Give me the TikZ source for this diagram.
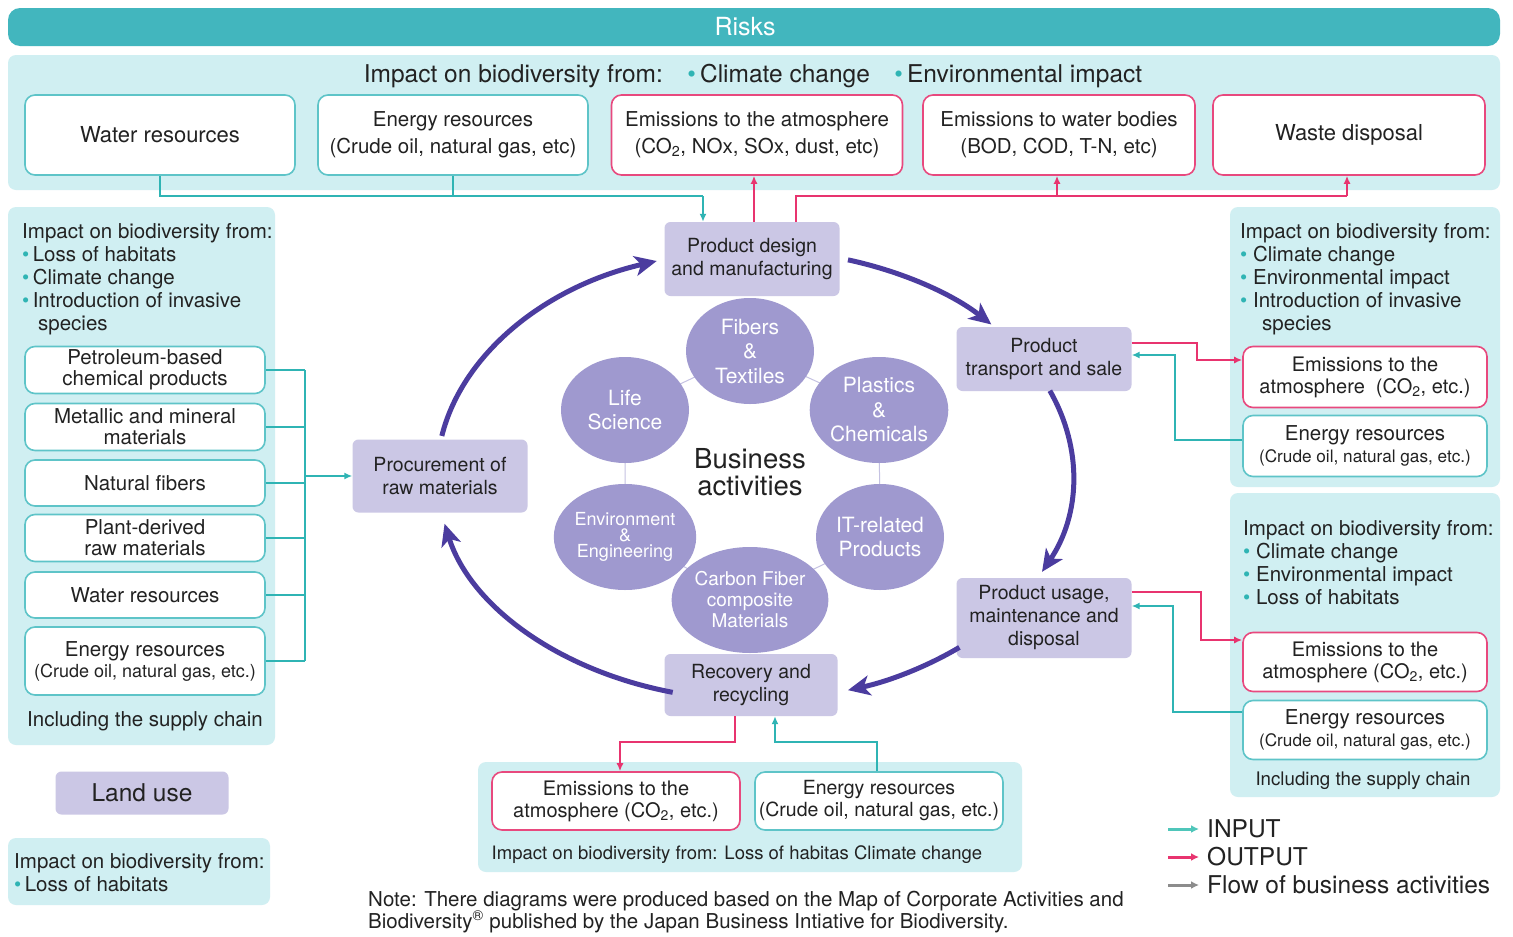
\documentclass[tikz,border=0pt]{standalone}
\usepackage{fontspec}
\setmainfont{TeX Gyre Heros}
\usetikzlibrary{arrows.meta,shapes.geometric,calc}
\definecolor{banner}{HTML}{42B6BE}
\definecolor{panelc}{HTML}{D0EFF2}
\definecolor{tealc}{HTML}{2FB4B4}
\definecolor{tealb}{HTML}{5EC4C8}
\definecolor{pinkc}{HTML}{E8346F}
\definecolor{pinkb}{HTML}{E8497E}
\definecolor{lav}{HTML}{CBC7E5}
\definecolor{bubc}{HTML}{9F99CF}
\definecolor{flowc}{HTML}{4B3C9F}
\definecolor{txt}{HTML}{222222}
\definecolor{legteal}{HTML}{4FC6BA}
\definecolor{leggray}{HTML}{8C8C8C}
\newcommand\myfs[2]{\fontsize{#1}{#2}\selectfont}
\newcommand\tb{{\color{tealc}\textbullet}}
\begin{document}
\begin{tikzpicture}[x=1pt,y=-1pt,
 tbox/.style={draw=tealb, fill=white, rounded corners=10pt, line width=1.6pt, align=center, inner sep=0pt, text=txt},
 pbox/.style={tbox, draw=pinkb},
 act/.style={fill=lav, rounded corners=6pt, align=center, inner sep=0pt, minimum width=175pt, font=\myfs{19.5}{23}, text=txt},
 bub/.style={ellipse, fill=bubc, text=white, align=center, minimum width=128pt, minimum height=106pt, inner sep=0pt, font=\myfs{21}{24.5}},
 inline/.style={draw=tealc, line width=2.6pt},
 outline/.style={draw=pinkc, line width=2.6pt},
 inarr/.style={inline, -{Latex[length=8pt,width=7pt]}},
 outarr/.style={outline, -{Latex[length=8pt,width=7pt]}},
 flow/.style={draw=flowc, line width=5pt, -{Stealth[length=22pt,width=20pt,inset=6pt]}},
 ptext/.style={align=left, inner sep=0pt, font=\myfs{20.5}{23}, text=txt},
 panel/.style={fill=panelc, rounded corners=8pt},
 legarr/.style={line width=3pt, -{Latex[length=8pt,width=8pt]}},
]
\useasboundingbox (0,0) rectangle (1513,937);
\fill[white] (0,0) rectangle (1513,937);

% ---------- banner and panels ----------
\node[fill=banner, rounded corners=12pt, minimum width=1492pt, minimum height=38pt, inner sep=0pt] (banner) at (754,27) {};
\node[inner sep=0pt, text=white, font=\myfs{25}{28}] (risks) at (745,27) {Risks};
\fill[panel] (8,55) rectangle (1500,190);
\fill[panel] (8,207) rectangle (275,745);
\fill[panel] (8,838) rectangle (270,905);
\fill[panel] (1230,207) rectangle (1500,487);
\fill[panel] (1230,493) rectangle (1500,797);
\fill[panel] (478,762) rectangle (1022,872);

% ---------- top ----------
\node[inner sep=0pt, anchor=base, font=\myfs{24.5}{28}, text=txt] (title) at (753,82) {Impact on biodiversity from:\quad\tb\,Climate change\quad\tb\,Environmental impact};
\node[tbox, minimum width=270pt, minimum height=80pt, font=\myfs{22}{27}] (wr) at (160,135) {Water resources};
\node[tbox, minimum width=270pt, minimum height=80pt, font=\myfs{20.5}{27}] (er) at (453,135) {Energy resources\\(Crude oil, natural gas, etc)};
\node[pbox, minimum width=291pt, minimum height=80pt, font=\myfs{20.5}{27}] (ea) at (757,135) {Emissions to the atmosphere\\(CO\textsubscript{2}, NOx, SOx, dust, etc)};
\node[pbox, minimum width=272pt, minimum height=80pt, font=\myfs{20.5}{27}] (ew) at (1059,135) {Emissions to water bodies\\(BOD, COD, T-N, etc)};
\node[pbox, minimum width=272pt, minimum height=80pt, font=\myfs{22}{27}] (wd) at (1349,135) {Waste disposal};

% ---------- business activity boxes ----------
\node[act, minimum height=74pt] (pd) at (752,259) {Product design\\and manufacturing};
\node[act, minimum height=64pt] (trans) at (1044,359) {Product\\transport and sale};
\node[act, minimum height=80pt] (use) at (1044,618) {Product usage,\\maintenance and\\disposal};
\node[act, minimum width=173pt, minimum height=62pt] (rec) at (751,685) {Recovery and\\recycling};
\node[act, minimum height=73pt] (proc) at (440,476) {Procurement of\\raw materials};

% ---------- bubbles ----------
\coordinate (c1) at (750,351);
\coordinate (c2) at (879,410);
\coordinate (c3) at (880,537);
\coordinate (c4) at (750,600);
\coordinate (c5) at (625,537);
\coordinate (c6) at (625,410);
\draw[bubc!60, line width=1pt] (c1) -- (c2) -- (c3) -- (c4) -- (c5) -- (c6) -- cycle;
\node[bub] (b1) at (c1) {Fibers\\\&\\Textiles};
\node[bub] (b2) at (c2) {Plastics\\\&\\Chemicals};
\node[bub] (b3) at (c3) {IT-related\\Products};
\node[bub, font=\myfs{19}{21}] (b4) at (c4) {Carbon Fiber\\composite\\Materials};
\node[bub, font=\myfs{18}{16}] (b5) at (c5) {Environment\\\&\\Engineering};
\node[bub] (b6) at (c6) {Life\\Science};
\node[inner sep=0pt, align=center, font=\myfs{27.5}{27}, text=txt] (biz) at (750,472) {Business\\activities};

% ---------- flow arcs ----------
\coordinate (cen) at (755,475);
\draw[flow] ($(cen)+(190:318 and 225)$) arc[start angle=190, end angle=252, x radius=318, y radius=225];
\draw[flow] ($(cen)+(287:318 and 225)$) arc[start angle=287, end angle=318, x radius=318, y radius=225];
\draw[flow] ($(cen)+(338:318 and 225)$) arc[start angle=338, end angle=385.5, x radius=318, y radius=225];
\draw[flow] ($(cen)+(50:318 and 225)$) arc[start angle=50, end angle=73, x radius=318, y radius=225];
\draw[flow] ($(cen)+(105:318 and 225)$) arc[start angle=105, end angle=167.5, x radius=318, y radius=225];

% ---------- top connectors ----------
\draw[inline] (160,0 |- wr.south) -- (160,196) -- (703,196);
\draw[inline] (453,0 |- er.south) -- (453,196);
\draw[inarr] (703,196) -- (703,0 |- pd.north);
\draw[outarr] (754,0 |- pd.north) -- (754,0 |- ea.south);
\draw[outline] (796,0 |- pd.north) -- (796,196) -- (1347,196);
\draw[outarr] (1347,196) -- (1347,0 |- wd.south);
\draw[outarr] (1057,196) -- (1057,0 |- ew.south);

% ---------- left panel ----------
\node[ptext, anchor=north west] (lhead) at (22,223) {Impact on biodiversity from:\\\tb\,Loss of habitats\\\tb\,Climate change\\\tb\,Introduction of invasive\\\hspace*{16pt}species};
\node[tbox, minimum width=240pt, minimum height=47pt, font=\myfs{20.5}{21}] (lb1) at (145,370) {Petroleum-based\\chemical products};
\node[tbox, minimum width=240pt, minimum height=47pt, font=\myfs{20.5}{21}] (lb2) at (145,427) {Metallic and mineral\\materials};
\node[tbox, minimum width=240pt, minimum height=46pt, font=\myfs{20.5}{21}] (lb3) at (145,483) {Natural fibers};
\node[tbox, minimum width=240pt, minimum height=47pt, font=\myfs{20.5}{21}] (lb4) at (145,538) {Plant-derived\\raw materials};
\node[tbox, minimum width=240pt, minimum height=46pt, font=\myfs{20.5}{21}] (lb5) at (145,595) {Water resources};
\node[tbox, minimum width=240pt, minimum height=68pt, font=\myfs{20.5}{21}] (lb6) at (145,661) {Energy resources\\{\myfs{18}{21}(Crude oil, natural gas, etc.)}};
\node[ptext, font=\myfs{20.5}{23}] (linc) at (145,721) {Including the supply chain};
\foreach \i in {1,...,6} \draw[inline] (lb\i.east) -- (305,0 |- lb\i.east);
\draw[inline] (305,0 |- lb1.east) -- (305,0 |- lb6.east);
\coordinate (lbus) at (305,476);
\draw[inarr] (lbus) -- (proc.west);

% ---------- land use ----------
\node[fill=lav, rounded corners=6pt, minimum width=173pt, minimum height=43pt, inner sep=0pt, font=\myfs{24.5}{28}, text=txt] (land) at (142,793) {Land use};
\node[ptext, anchor=north west] (lbot) at (14,853) {Impact on biodiversity from:\\\tb\,Loss of habitats};

% ---------- right upper ----------
\node[ptext, anchor=north west] (rh1) at (1240,223) {Impact on biodiversity from:\\\tb\ Climate change\\\tb\ Environmental impact\\\tb\ Introduction of invasive\\\hspace*{22pt}species};
\node[pbox, minimum width=244pt, minimum height=61pt, font=\myfs{20}{22}] (emr1) at (1365,377) {Emissions to the\\atmosphere\ \ (CO\textsubscript{2}, etc.)};
\node[tbox, minimum width=244pt, minimum height=61pt, font=\myfs{20.5}{22}] (enr1) at (1365,446) {Energy resources\\{\myfs{17.2}{22}(Crude oil, natural gas, etc.)}};
\draw[outarr] (trans.east |- 0,343) -- (1197,343) -- (1197,360) -- (emr1.west |- 0,360);
\draw[inarr] (enr1.west |- 0,440) -- (1175,440) -- (1175,355) -- (trans.east |- 0,355);

% ---------- right lower ----------
\node[ptext, anchor=north west] (rh2) at (1243,520) {Impact on biodiversity from:\\\tb\ Climate change\\\tb\ Environmental impact\\\tb\ Loss of habitats};
\node[pbox, minimum width=244pt, minimum height=59pt, font=\myfs{20}{22}] (emr2) at (1365,662) {Emissions to the\\atmosphere (CO\textsubscript{2}, etc.)};
\node[tbox, minimum width=244pt, minimum height=59pt, font=\myfs{20.5}{22}] (enr2) at (1365,730) {Energy resources\\{\myfs{17.2}{22}(Crude oil, natural gas, etc.)}};
\node[ptext, font=\myfs{18.7}{22}] (rinc) at (1363,781) {Including the supply chain};
\draw[outarr] (use.east |- 0,592) -- (1201,592) -- (1201,640) -- (emr2.west |- 0,640);
\draw[inarr] (enr2.west |- 0,712) -- (1173,712) -- (1173,606) -- (use.east |- 0,606);

% ---------- bottom middle ----------
\node[pbox, minimum width=248pt, minimum height=58pt, font=\myfs{20}{22}] (emb) at (616,801) {Emissions to the\\atmosphere (CO\textsubscript{2}, etc.)};
\node[tbox, minimum width=248pt, minimum height=58pt, font=\myfs{19.5}{22}] (enb) at (879,801) {Energy resources\\(Crude oil, natural gas, etc.)};
\node[ptext, font=\myfs{18.5}{22}] (btxt) at (737,855) {Impact on biodiversity from: Loss of habitas Climate change};
\draw[outarr] (735,0 |- rec.south) -- (735,742) -- (620,742) -- (620,0 |- emb.north);
\draw[inarr] (877,0 |- enb.north) -- (877,742) -- (775,742) -- (775,0 |- rec.south);

% ---------- note ----------
\node[ptext, font=\myfs{20.5}{22}, anchor=north west] (note) at (368,891) {Note: There diagrams were produced based on the Map of Corporate Activities and\\Biodiversity\textsuperscript{\textregistered} published by the Japan Business Intiative for Biodiversity.};

% ---------- legend ----------
\node[ptext, font=\myfs{24.5}{28}, anchor=west] (lin) at (1207,829) {INPUT};
\node[ptext, font=\myfs{24.5}{28}, anchor=west] (lout) at (1207,857) {OUTPUT};
\node[ptext, font=\myfs{24.5}{28}, anchor=west] (lflow) at (1207,885) {Flow of business activities};
\coordinate (la1) at (1168,829);
\coordinate (la2) at (1168,857);
\coordinate (la3) at (1168,885);
\draw[legarr, draw=legteal] (la1) -- ([xshift=-8pt]lin.west);
\draw[legarr, draw=pinkc] (la2) -- ([xshift=-8pt]lout.west);
\draw[legarr, draw=leggray] (la3) -- ([xshift=-8pt]lflow.west);
\end{tikzpicture}
\end{document}
